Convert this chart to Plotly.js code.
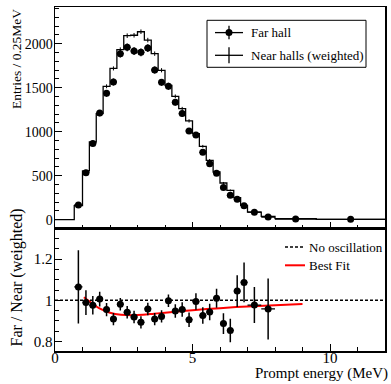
<!DOCTYPE html>
<html>
<head>
<meta charset="utf-8">
<script src="https://cdn.plot.ly/plotly-3.0.1.min.js"></script>
<style>html,body{margin:0;padding:0;background:#fff;}#plot{width:391px;height:384px;}</style>
</head>
<body>
<div id="plot"></div>
<script>
// ---- data ----
const binEdges = [0.7, 1.0, 1.25, 1.5, 1.75, 2.0, 2.25, 2.5, 2.75, 3.0, 3.25, 3.5, 3.75, 4.0, 4.25, 4.5, 4.75, 5.0, 5.25, 5.5, 5.75, 6.0, 6.25, 6.5, 6.75, 7.0, 7.5, 8.0, 9.5, 12];
const binCenters = [0.85, 1.125, 1.375, 1.625, 1.875, 2.125, 2.375, 2.625, 2.875, 3.125, 3.375, 3.625, 3.875, 4.125, 4.375, 4.625, 4.875, 5.125, 5.375, 5.625, 5.875, 6.125, 6.375, 6.625, 6.875, 7.25, 7.75, 8.75, 10.75];
const binHalfWidths = [0.15, 0.125, 0.125, 0.125, 0.125, 0.125, 0.125, 0.125, 0.125, 0.125, 0.125, 0.125, 0.125, 0.125, 0.125, 0.125, 0.125, 0.125, 0.125, 0.125, 0.125, 0.125, 0.125, 0.125, 0.125, 0.25, 0.25, 0.75, 1.25];
const nearWeighted = [160, 553, 882, 1205, 1515, 1718, 1932, 2090, 2095, 2135, 2040, 1886, 1697, 1526, 1401, 1261, 1122, 977, 833, 674, 541, 416, 333, 250, 163, 86, 37, 11, 3];
const nearErr = [8, 14, 18, 20, 22, 23, 25, 26, 26, 26, 26, 25, 24, 22, 21, 20, 19, 18, 16, 15, 13, 12, 10, 9, 8, 5, 3, 2, 1];
const farHall = [166, 534, 864, 1211, 1435, 1564, 1886, 1958, 1916, 1901, 1950, 1700, 1560, 1515, 1333, 1205, 1007, 961, 765, 636, 528, 364, 276, 232, 158, 85, 30, 6, 3];
const farErr = [13, 23, 29, 35, 38, 40, 43, 44, 44, 44, 44, 41, 39, 39, 37, 35, 32, 31, 28, 25, 23, 19, 17, 15, 13, 9, 5, 2, 1];
const ratioE = [0.85, 1.125, 1.375, 1.625, 1.875, 2.125, 2.375, 2.625, 2.875, 3.125, 3.375, 3.625, 3.875, 4.125, 4.375, 4.625, 4.875, 5.125, 5.375, 5.625, 5.875, 6.125, 6.375, 6.625, 6.875, 7.25, 7.75];
const ratioHalfWidths = [0.15, 0.125, 0.125, 0.125, 0.125, 0.125, 0.125, 0.125, 0.125, 0.125, 0.125, 0.125, 0.125, 0.125, 0.125, 0.125, 0.125, 0.125, 0.125, 0.125, 0.125, 0.125, 0.125, 0.125, 0.125, 0.25, 0.25];
const ratio = [1.065, 0.989, 0.976, 1.006, 0.955, 0.909, 0.981, 0.942, 0.919, 0.893, 0.958, 0.909, 0.922, 0.998, 0.948, 0.955, 0.906, 0.994, 0.926, 0.943, 1.010, 0.887, 0.854, 1.045, 1.087, 0.977, 0.958];
const ratioErr = [0.178, 0.06, 0.045, 0.036, 0.032, 0.03, 0.03, 0.03, 0.03, 0.03, 0.03, 0.03, 0.03, 0.03, 0.033, 0.035, 0.035, 0.04, 0.04, 0.04, 0.046, 0.05, 0.057, 0.077, 0.097, 0.087, 0.148];
const fitE = [1.05, 1.3, 1.6, 2.0, 2.4, 2.8, 3.2, 3.6, 4.0, 5.0, 6.0, 7.0, 8.0, 9.0];
const fitRatio = [1.015, 0.99, 0.962, 0.94, 0.93, 0.928, 0.93, 0.935, 0.94, 0.952, 0.962, 0.97, 0.976, 0.982];

// ---- geometry helpers (pixels -> paper) ----
const L = 55, R = 385, T = 6.7, B = 350.7;
const px = X => (X - L) / (R - L);
const py = Y => (B - Y) / (B - T);
const split = py(228.3);

const FONT = '"Liberation Serif", serif';

const stepX = [0].concat(binEdges);
const stepY = [0].concat(nearWeighted, [nearWeighted[nearWeighted.length - 1]]);

const traces = [
  {x: stepX, y: stepY, type: 'scatter', mode: 'lines', line: {shape: 'hv', color: 'black', width: 1.3}, xaxis: 'x', yaxis: 'y', hoverinfo: 'skip'},
  {x: binCenters, y: nearWeighted, type: 'scatter', mode: 'lines', line: {width: 0, color: 'black'},
   error_y: {type: 'data', array: nearErr, visible: true, color: 'black', thickness: 1, width: 0}, xaxis: 'x', yaxis: 'y'},
  {x: binCenters, y: farHall, type: 'scatter', mode: 'markers', marker: {color: 'black', size: 7},
   error_y: {type: 'data', array: farErr, visible: true, color: 'black', thickness: 1.3, width: 0},
   error_x: {type: 'data', array: binHalfWidths, visible: true, color: 'black', thickness: 1.3, width: 0}, xaxis: 'x', yaxis: 'y'},
  {x: fitE, y: fitRatio, type: 'scatter', mode: 'lines', line: {color: 'red', width: 2, shape: 'spline'}, xaxis: 'x2', yaxis: 'y2'},
  {x: ratioE, y: ratio, type: 'scatter', mode: 'markers', marker: {color: 'black', size: 7},
   error_y: {type: 'data', array: ratioErr, visible: true, color: 'black', thickness: 1.5, width: 0},
   error_x: {type: 'data', array: ratioHalfWidths, visible: true, color: 'black', thickness: 1.3, width: 0}, xaxis: 'x2', yaxis: 'y2'}
];

const axBase = {showgrid: false, zeroline: false, showline: true, mirror: true, linecolor: 'black', linewidth: 1.5,
  ticks: 'inside', tickcolor: 'black', tickwidth: 1, ticklen: 7, tickfont: {family: FONT, size: 14, color: 'black'}};

const layout = {
  width: 391, height: 384,
  margin: {l: L, r: 391 - R, t: T, b: 384 - B},
  paper_bgcolor: 'white', plot_bgcolor: 'white',
  showlegend: false,
  font: {family: FONT, color: 'black'},
  xaxis: Object.assign({}, axBase, {domain: [0, 1], anchor: 'y', range: [0, 12], tick0: 0, dtick: 5, showticklabels: false,
    minor: {ticks: 'inside', dtick: 1, ticklen: 4, tickcolor: 'black'}}),
  yaxis: Object.assign({}, axBase, {domain: [split, 1], anchor: 'x', range: [-102, 2416], tick0: 0, dtick: 500, ticklabelstandoff: -2,
    minor: {ticks: 'inside', dtick: 100, ticklen: 4, tickcolor: 'black'}}),
  xaxis2: Object.assign({}, axBase, {domain: [0, 1], anchor: 'y2', range: [0, 12], tick0: 0, dtick: 5,
    tickfont: {family: FONT, size: 15, color: 'black'}, ticklabelstandoff: -8,
    minor: {ticks: 'inside', dtick: 1, ticklen: 4, tickcolor: 'black'}}),
  yaxis2: Object.assign({}, axBase, {domain: [0, split], anchor: 'x2', range: [0.754, 1.348], tick0: 0.8, dtick: 0.2, ticklabelstandoff: -2,
    tickfont: {family: FONT, size: 15, color: 'black'},
    minor: {ticks: 'inside', dtick: 0.05, ticklen: 4, tickcolor: 'black'}}),
  shapes: [
    {type: 'line', xref: 'paper', yref: 'y2', x0: 0, x1: 1, y0: 1, y1: 1, line: {color: 'black', width: 1.5, dash: '3px,2px'}},
    // top legend box
    {type: 'rect', xref: 'paper', yref: 'paper', x0: px(207), x1: px(366), y0: py(20), y1: py(67), line: {color: 'black', width: 1}, fillcolor: 'white', layer: 'above'},
    {type: 'line', xref: 'paper', yref: 'paper', x0: px(215), x1: px(243), y0: py(32.3), y1: py(32.3), line: {color: 'black', width: 1.3}},
    {type: 'line', xref: 'paper', yref: 'paper', x0: px(229), x1: px(229), y0: py(25.5), y1: py(39), line: {color: 'black', width: 1.3}},
    {type: 'circle', xref: 'paper', yref: 'paper', xsizemode: 'pixel', ysizemode: 'pixel', xanchor: px(229), yanchor: py(32.3),
     x0: -3.5, x1: 3.5, y0: -3.5, y1: 3.5, fillcolor: 'black', line: {color: 'black', width: 0}},
    {type: 'line', xref: 'paper', yref: 'paper', x0: px(215), x1: px(243), y0: py(55), y1: py(55), line: {color: 'black', width: 1.3}},
    {type: 'line', xref: 'paper', yref: 'paper', x0: px(229), x1: px(229), y0: py(47), y1: py(63), line: {color: 'black', width: 1.3}},
    // lower legend
    {type: 'line', xref: 'paper', yref: 'paper', x0: px(285), x1: px(305), y0: py(246.7), y1: py(246.7), line: {color: 'black', width: 1.5, dash: '3px,2px'}},
    {type: 'line', xref: 'paper', yref: 'paper', x0: px(285), x1: px(305), y0: py(265), y1: py(265), line: {color: 'red', width: 2}}
  ],
  annotations: [
    {text: 'Far hall', xref: 'paper', yref: 'paper', x: px(249), y: py(32.3), xanchor: 'left', yanchor: 'middle', showarrow: false, font: {family: FONT, size: 13, color: 'black'}},
    {text: 'Near halls (weighted)', xref: 'paper', yref: 'paper', x: px(249), y: py(55), xanchor: 'left', yanchor: 'middle', showarrow: false, font: {family: FONT, size: 13, color: 'black'}},
    {text: 'No oscillation', xref: 'paper', yref: 'paper', x: px(307), y: py(246.7), xanchor: 'left', yanchor: 'middle', showarrow: false, font: {family: FONT, size: 13, color: 'black'}},
    {text: 'Best Fit', xref: 'paper', yref: 'paper', x: px(307), y: py(265), xanchor: 'left', yanchor: 'middle', showarrow: false, font: {family: FONT, size: 13, color: 'black'}},
    {text: 'Entries / 0.25MeV', xref: 'paper', yref: 'paper', x: px(16.7), y: py(7), xanchor: 'center', yanchor: 'top', textangle: -90, showarrow: false, font: {family: FONT, size: 13.5, color: 'black'}},
    {text: 'Far / Near (weighted)', xref: 'paper', yref: 'paper', x: px(16.7), y: py(277.5), xanchor: 'center', yanchor: 'middle', textangle: -90, showarrow: false, font: {family: FONT, size: 16, color: 'black'}},
    {text: 'Prompt energy (MeV)', xref: 'paper', yref: 'paper', x: px(390), y: py(373.5), xanchor: 'right', yanchor: 'middle', showarrow: false, font: {family: FONT, size: 15, color: 'black'}}
  ]
};

Plotly.newPlot('plot', traces, layout, {staticPlot: true, displayModeBar: false});
</script>
</body>
</html>
